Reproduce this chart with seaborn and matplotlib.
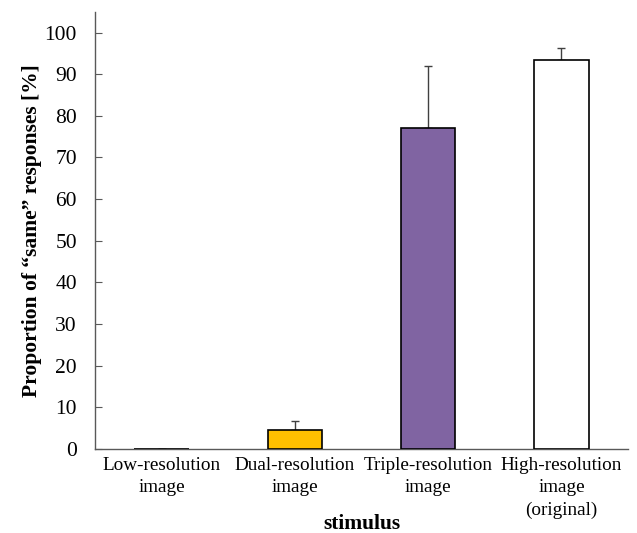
import matplotlib
matplotlib.use("Agg")
import matplotlib.pyplot as plt
import seaborn as sns
import pandas as pd

categories = ["Low-resolution\nimage", "Dual-resolution\nimage",
              "Triple-resolution\nimage", "High-resolution\nimage\n(original)"]
means = [0.0, 4.4, 77.0, 93.4]
err_upper = [0.0, 2.3, 14.9, 2.9]
colors = ["#FFFFFF", "#FFC000", "#8064A2", "#FFFFFF"]
y_ticks = list(range(0, 101, 10))

sns.set_theme(style="white")
plt.rcParams["font.family"] = ["Liberation Serif", "DejaVu Serif"]
plt.rcParams["text.color"] = "black"
plt.rcParams["xtick.color"] = "black"
plt.rcParams["ytick.color"] = "black"
plt.rcParams["axes.labelcolor"] = "black"

df = pd.DataFrame({"stimulus": categories, "value": means})

fig = plt.figure(figsize=(6.37, 5.33), dpi=100)
ax = fig.add_axes([0.149, 0.158, 0.837, 0.82])

sns.barplot(data=df, x="stimulus", y="value", hue="stimulus",
            palette=dict(zip(categories, colors)), legend=False,
            saturation=1, errorbar=None, width=0.41, edgecolor="black",
            linewidth=1.2, ax=ax, zorder=3)

ax.errorbar(range(len(categories)), means,
            yerr=[[0] * len(means), err_upper], fmt="none",
            ecolor="#404040", elinewidth=1.0, capsize=3, capthick=1.0, zorder=2)

ax.set_xlim(-0.5, 3.5)
ax.set_ylim(0, 105)
ax.set_yticks(y_ticks)
ax.tick_params(axis="y", which="major", direction="in", length=5,
               width=0.8, color="#595959", labelsize=15.5, left=True, pad=13)
ax.tick_params(axis="x", length=0, labelsize=13.8, pad=6)
for lbl in ax.get_xticklabels():
    lbl.set_linespacing(1.4)

for side in ("top", "right"):
    ax.spines[side].set_visible(False)
for side in ("left", "bottom"):
    ax.spines[side].set_color("#595959")
    ax.spines[side].set_linewidth(1.0)

ax.set_xlabel("stimulus", fontsize=15.5, fontweight="bold")
ax.xaxis.label.set_va("center")
ax.xaxis.set_label_coords(0.5, -0.172)
ax.set_ylabel("Proportion of \u201csame\u201d responses [%]", fontsize=15.5,
              fontweight="bold", labelpad=2)

fig.savefig("out.png", dpi=100)
